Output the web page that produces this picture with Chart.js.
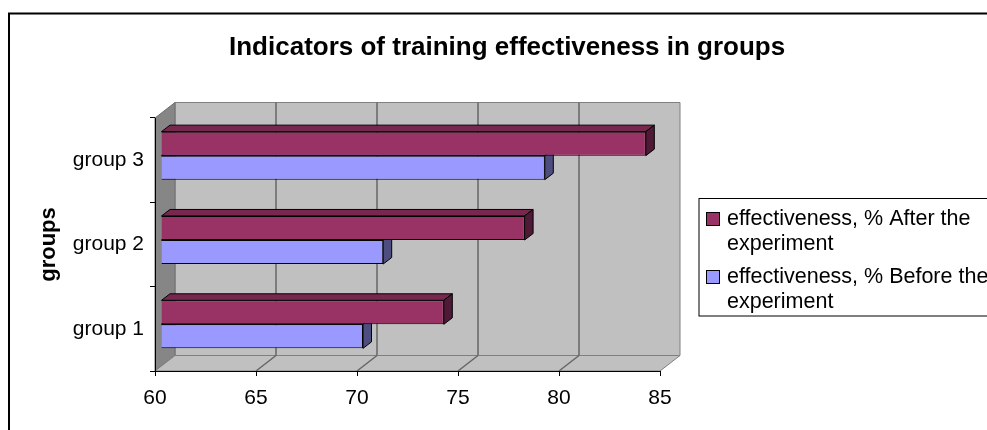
<!DOCTYPE html>
<html>
<head>
<meta charset="utf-8">
<title>Indicators of training effectiveness in groups</title>
<script src="https://cdn.jsdelivr.net/npm/chart.js@4/dist/chart.umd.min.js"></script>
<style>
	html, body { margin: 0; padding: 0; background: #fff; }
	canvas { display: block; }
</style>
</head>
<body>
<canvas id="chart" width="987" height="430"></canvas>
<script>

var chartTitle = 'Indicators of training effectiveness in groups';
var groups = ['group 1', 'group 2', 'group 3'];
var afterValues = [74, 78, 84];
var beforeValues = [70, 71, 79];
var seriesNames = ['effectiveness, % After the experiment', 'effectiveness, % Before the experiment'];
var axisTitle = 'groups';
var xMin = 60, xMax = 85, xStep = 5;

var FONT = '"Liberation Sans", Arial, sans-serif';

// 3d look: back plane offset, bar plane offset, bar depth
var BACK = {x: 20, y: -15.5};
var BARS = {x: 6, y: -4.5};
var DEPTH = {x: 8.5, y: -6.5};

var faceColors = [
	{top: '#78284f', side: '#4f1a36'},
	{top: '#7a7acc', side: '#4d4d80'}
];

var poly = function(ctx, pts, fill, stroke, lw){
	ctx.beginPath();
	ctx.moveTo(pts[0][0], pts[0][1]);
	for (var i = 1; i < pts.length; i++) ctx.lineTo(pts[i][0], pts[i][1]);
	ctx.closePath();
	if(fill){ ctx.fillStyle = fill; ctx.fill(); }
	if(stroke){ ctx.strokeStyle = stroke; ctx.lineWidth = lw || 1; ctx.stroke(); }
};

var wrapText = function(ctx, text, maxWidth){
	var words = text.split(' ');
	var lines = [];
	var line = '';
	for (var i = 0; i < words.length; i++) {
		var test = line ? line + ' ' + words[i] : words[i];
		if(line && ctx.measureText(test).width > maxWidth){
			lines.push(line);
			line = words[i];
		} else {
			line = test;
		}
	}
	if(line) lines.push(line);
	return lines;
};

var depthPlugin = {
	id: 'depth3d',
	beforeDraw: function(chart){
		var ctx = chart.ctx;
		var area = chart.chartArea;
		var xs = chart.scales.x;
		var L = area.left, R = area.right, T = area.top, B = area.bottom;

		ctx.save();
		ctx.fillStyle = '#fff';
		ctx.fillRect(0, 0, chart.width, chart.height);

		// outer frame
		ctx.strokeStyle = '#000';
		ctx.lineWidth = 2;
		ctx.strokeRect(9, 13.5, chart.width + 20, chart.height + 20);

		// walls
		poly(ctx, [[L + BACK.x, T + BACK.y], [R + BACK.x, T + BACK.y], [R + BACK.x, B + BACK.y], [L + BACK.x, B + BACK.y]], '#c0c0c0', '#808080', 1);
		poly(ctx, [[L, T], [L + BACK.x, T + BACK.y], [L + BACK.x, B + BACK.y], [L, B]], '#868686', '#6e6e6e', 1);
		poly(ctx, [[L, B], [L + BACK.x, B + BACK.y], [R + BACK.x, B + BACK.y], [R, B]], '#c0c0c0', '#808080', 1);

		// gridlines on back wall and floor
		ctx.strokeStyle = '#666';
		ctx.lineWidth = 1.5;
		xs.ticks.forEach(function(t){
			if(t.value <= xMin || t.value >= xMax) return;
			var px = xs.getPixelForValue(t.value);
			ctx.beginPath();
			ctx.moveTo(px + BACK.x, T + BACK.y);
			ctx.lineTo(px + BACK.x, B + BACK.y);
			ctx.moveTo(px, B);
			ctx.lineTo(px + BACK.x, B + BACK.y);
			ctx.stroke();
		});
		ctx.restore();
	},
	beforeDatasetsDraw: function(chart){
		var ctx = chart.ctx;
		ctx.save();
		ctx.translate(BARS.x, BARS.y);
		chart.data.datasets.forEach(function(ds, di){
			var meta = chart.getDatasetMeta(di);
			meta.data.forEach(function(bar){
				var top = bar.y - bar.height / 2;
				var bottom = bar.y + bar.height / 2;
				var left = bar.base, right = bar.x;
				poly(ctx, [[left, top], [left + DEPTH.x, top + DEPTH.y], [right + DEPTH.x, top + DEPTH.y], [right, top]], faceColors[di].top, '#000', 1);
				poly(ctx, [[right, top], [right + DEPTH.x, top + DEPTH.y], [right + DEPTH.x, bottom + DEPTH.y], [right, bottom]], faceColors[di].side, '#000', 1);
			});
		});
	},
	afterDatasetsDraw: function(chart){
		chart.ctx.restore();
	},
	afterDraw: function(chart){
		var ctx = chart.ctx;
		ctx.save();

		// title
		ctx.fillStyle = '#000';
		ctx.font = 'bold 26px ' + FONT;
		ctx.textAlign = 'left';
		ctx.textBaseline = 'alphabetic';
		ctx.fillText(chartTitle, 229, 55);

		// legend
		var lx = 699, ly = 198.5;
		ctx.strokeStyle = '#000';
		ctx.lineWidth = 1;
		ctx.fillStyle = '#fff';
		ctx.fillRect(lx, ly, 320, 117.5);
		ctx.strokeRect(lx, ly, 320, 117.5);
		ctx.font = '21.5px ' + FONT;
		ctx.textBaseline = 'middle';
		var y = 219;
		chart.data.datasets.forEach(function(ds){
			ctx.fillStyle = ds.backgroundColor;
			ctx.fillRect(706.5, y - 6.5, 13, 13);
			ctx.strokeRect(706.5, y - 6.5, 13, 13);
			ctx.fillStyle = '#000';
			var lines = wrapText(ctx, ds.label, 268);
			lines.forEach(function(line, i){
				ctx.fillText(line, 727, y + i * 25);
			});
			y += 58;
		});
		ctx.restore();
	}
};

var chart = new Chart(document.getElementById('chart').getContext('2d'), {
	type: 'bar',
	data: {
		labels: groups,
		datasets: [
			{
				label: seriesNames[0],
				data: afterValues,
				base: xMin,
				backgroundColor: '#993366',
				borderColor: '#000',
				borderWidth: 1,
				clip: false
			},
			{
				label: seriesNames[1],
				data: beforeValues,
				base: xMin,
				backgroundColor: '#9999ff',
				borderColor: '#000',
				borderWidth: 1,
				clip: false
			}
		]
	},
	options: {
		indexAxis: 'y',
		responsive: false,
		devicePixelRatio: 1,
		animation: false,
		categoryPercentage: 0.57,
		barPercentage: 1,
		layout: {
			padding: {left: 30, right: 327, top: 118, bottom: 0}
		},
		plugins: {
			legend: {display: false},
			title: {display: false},
			tooltip: {enabled: false}
		},
		scales: {
			x: {
				type: 'linear',
				min: xMin,
				max: xMax,
				ticks: {
					stepSize: xStep,
					color: '#000',
					padding: 10,
					font: {family: FONT, size: 21}
				},
				grid: {
					drawOnChartArea: false,
					drawTicks: true,
					tickLength: 5,
					color: '#000'
				},
				border: {display: true, color: '#000', width: 1},
				afterFit: function(scale){ scale.height = 59; }
			},
			y: {
				reverse: true,
				ticks: {
					color: '#000',
					padding: 6,
					font: {family: FONT, size: 21}
				},
				grid: {
					drawOnChartArea: false,
					drawTicks: true,
					tickLength: 5,
					color: '#000'
				},
				border: {display: true, color: '#000', width: 1},
				title: {
					display: true,
					text: axisTitle,
					color: '#000',
					padding: {top: 6, bottom: 0},
					font: {family: FONT, size: 22, weight: 'bold'}
				},
				afterFit: function(scale){ scale.width = 125; }
			}
		}
	},
	plugins: [depthPlugin]
});

</script>
</body>
</html>
